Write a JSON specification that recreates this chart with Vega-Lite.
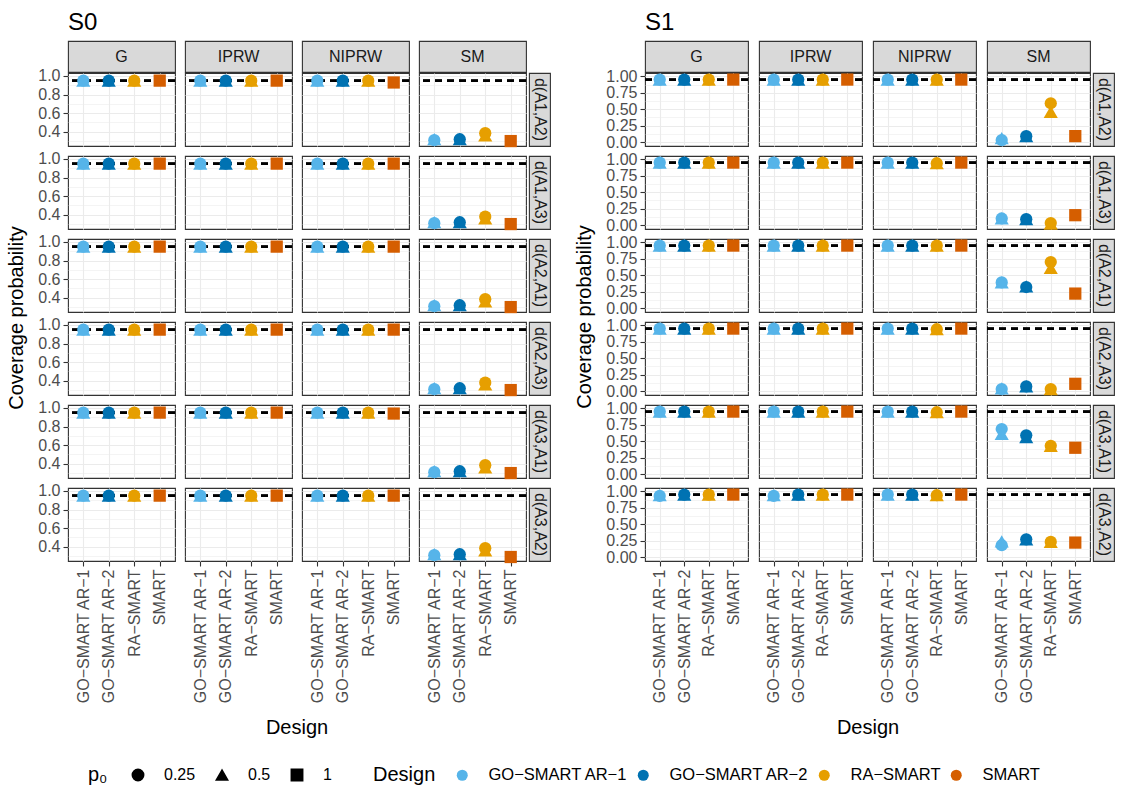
{
  "$schema": "https://vega.github.io/schema/vega-lite/v6.json",
  "background": "white",
  "padding": {"left": 6, "top": 11, "right": 5, "bottom": 5},
  "data": {"values": [
    {"s":"S0","method":"G","contrast":"d(A1,A2)","design":"GO−SMART AR−1","p0":"0.25","coverage":0.95},
    {"s":"S0","method":"G","contrast":"d(A1,A2)","design":"GO−SMART AR−1","p0":"0.5","coverage":0.95},
    {"s":"S0","method":"G","contrast":"d(A1,A2)","design":"GO−SMART AR−2","p0":"0.25","coverage":0.95},
    {"s":"S0","method":"G","contrast":"d(A1,A2)","design":"GO−SMART AR−2","p0":"0.5","coverage":0.95},
    {"s":"S0","method":"G","contrast":"d(A1,A2)","design":"RA−SMART","p0":"0.25","coverage":0.95},
    {"s":"S0","method":"G","contrast":"d(A1,A2)","design":"RA−SMART","p0":"0.5","coverage":0.95},
    {"s":"S0","method":"G","contrast":"d(A1,A2)","design":"SMART","p0":"1","coverage":0.95},
    {"s":"S0","method":"G","contrast":"d(A1,A3)","design":"GO−SMART AR−1","p0":"0.25","coverage":0.95},
    {"s":"S0","method":"G","contrast":"d(A1,A3)","design":"GO−SMART AR−1","p0":"0.5","coverage":0.95},
    {"s":"S0","method":"G","contrast":"d(A1,A3)","design":"GO−SMART AR−2","p0":"0.25","coverage":0.95},
    {"s":"S0","method":"G","contrast":"d(A1,A3)","design":"GO−SMART AR−2","p0":"0.5","coverage":0.95},
    {"s":"S0","method":"G","contrast":"d(A1,A3)","design":"RA−SMART","p0":"0.25","coverage":0.95},
    {"s":"S0","method":"G","contrast":"d(A1,A3)","design":"RA−SMART","p0":"0.5","coverage":0.95},
    {"s":"S0","method":"G","contrast":"d(A1,A3)","design":"SMART","p0":"1","coverage":0.95},
    {"s":"S0","method":"G","contrast":"d(A2,A1)","design":"GO−SMART AR−1","p0":"0.25","coverage":0.95},
    {"s":"S0","method":"G","contrast":"d(A2,A1)","design":"GO−SMART AR−1","p0":"0.5","coverage":0.95},
    {"s":"S0","method":"G","contrast":"d(A2,A1)","design":"GO−SMART AR−2","p0":"0.25","coverage":0.95},
    {"s":"S0","method":"G","contrast":"d(A2,A1)","design":"GO−SMART AR−2","p0":"0.5","coverage":0.95},
    {"s":"S0","method":"G","contrast":"d(A2,A1)","design":"RA−SMART","p0":"0.25","coverage":0.95},
    {"s":"S0","method":"G","contrast":"d(A2,A1)","design":"RA−SMART","p0":"0.5","coverage":0.95},
    {"s":"S0","method":"G","contrast":"d(A2,A1)","design":"SMART","p0":"1","coverage":0.95},
    {"s":"S0","method":"G","contrast":"d(A2,A3)","design":"GO−SMART AR−1","p0":"0.25","coverage":0.95},
    {"s":"S0","method":"G","contrast":"d(A2,A3)","design":"GO−SMART AR−1","p0":"0.5","coverage":0.95},
    {"s":"S0","method":"G","contrast":"d(A2,A3)","design":"GO−SMART AR−2","p0":"0.25","coverage":0.95},
    {"s":"S0","method":"G","contrast":"d(A2,A3)","design":"GO−SMART AR−2","p0":"0.5","coverage":0.95},
    {"s":"S0","method":"G","contrast":"d(A2,A3)","design":"RA−SMART","p0":"0.25","coverage":0.95},
    {"s":"S0","method":"G","contrast":"d(A2,A3)","design":"RA−SMART","p0":"0.5","coverage":0.95},
    {"s":"S0","method":"G","contrast":"d(A2,A3)","design":"SMART","p0":"1","coverage":0.95},
    {"s":"S0","method":"G","contrast":"d(A3,A1)","design":"GO−SMART AR−1","p0":"0.25","coverage":0.95},
    {"s":"S0","method":"G","contrast":"d(A3,A1)","design":"GO−SMART AR−1","p0":"0.5","coverage":0.95},
    {"s":"S0","method":"G","contrast":"d(A3,A1)","design":"GO−SMART AR−2","p0":"0.25","coverage":0.95},
    {"s":"S0","method":"G","contrast":"d(A3,A1)","design":"GO−SMART AR−2","p0":"0.5","coverage":0.95},
    {"s":"S0","method":"G","contrast":"d(A3,A1)","design":"RA−SMART","p0":"0.25","coverage":0.95},
    {"s":"S0","method":"G","contrast":"d(A3,A1)","design":"RA−SMART","p0":"0.5","coverage":0.95},
    {"s":"S0","method":"G","contrast":"d(A3,A1)","design":"SMART","p0":"1","coverage":0.95},
    {"s":"S0","method":"G","contrast":"d(A3,A2)","design":"GO−SMART AR−1","p0":"0.25","coverage":0.95},
    {"s":"S0","method":"G","contrast":"d(A3,A2)","design":"GO−SMART AR−1","p0":"0.5","coverage":0.95},
    {"s":"S0","method":"G","contrast":"d(A3,A2)","design":"GO−SMART AR−2","p0":"0.25","coverage":0.95},
    {"s":"S0","method":"G","contrast":"d(A3,A2)","design":"GO−SMART AR−2","p0":"0.5","coverage":0.95},
    {"s":"S0","method":"G","contrast":"d(A3,A2)","design":"RA−SMART","p0":"0.25","coverage":0.95},
    {"s":"S0","method":"G","contrast":"d(A3,A2)","design":"RA−SMART","p0":"0.5","coverage":0.95},
    {"s":"S0","method":"G","contrast":"d(A3,A2)","design":"SMART","p0":"1","coverage":0.95},

    {"s":"S0","method":"IPRW","contrast":"d(A1,A2)","design":"GO−SMART AR−1","p0":"0.25","coverage":0.95},
    {"s":"S0","method":"IPRW","contrast":"d(A1,A2)","design":"GO−SMART AR−1","p0":"0.5","coverage":0.95},
    {"s":"S0","method":"IPRW","contrast":"d(A1,A2)","design":"GO−SMART AR−2","p0":"0.25","coverage":0.95},
    {"s":"S0","method":"IPRW","contrast":"d(A1,A2)","design":"GO−SMART AR−2","p0":"0.5","coverage":0.95},
    {"s":"S0","method":"IPRW","contrast":"d(A1,A2)","design":"RA−SMART","p0":"0.25","coverage":0.95},
    {"s":"S0","method":"IPRW","contrast":"d(A1,A2)","design":"RA−SMART","p0":"0.5","coverage":0.95},
    {"s":"S0","method":"IPRW","contrast":"d(A1,A2)","design":"SMART","p0":"1","coverage":0.95},
    {"s":"S0","method":"IPRW","contrast":"d(A1,A3)","design":"GO−SMART AR−1","p0":"0.25","coverage":0.95},
    {"s":"S0","method":"IPRW","contrast":"d(A1,A3)","design":"GO−SMART AR−1","p0":"0.5","coverage":0.95},
    {"s":"S0","method":"IPRW","contrast":"d(A1,A3)","design":"GO−SMART AR−2","p0":"0.25","coverage":0.95},
    {"s":"S0","method":"IPRW","contrast":"d(A1,A3)","design":"GO−SMART AR−2","p0":"0.5","coverage":0.95},
    {"s":"S0","method":"IPRW","contrast":"d(A1,A3)","design":"RA−SMART","p0":"0.25","coverage":0.95},
    {"s":"S0","method":"IPRW","contrast":"d(A1,A3)","design":"RA−SMART","p0":"0.5","coverage":0.95},
    {"s":"S0","method":"IPRW","contrast":"d(A1,A3)","design":"SMART","p0":"1","coverage":0.95},
    {"s":"S0","method":"IPRW","contrast":"d(A2,A1)","design":"GO−SMART AR−1","p0":"0.25","coverage":0.95},
    {"s":"S0","method":"IPRW","contrast":"d(A2,A1)","design":"GO−SMART AR−1","p0":"0.5","coverage":0.95},
    {"s":"S0","method":"IPRW","contrast":"d(A2,A1)","design":"GO−SMART AR−2","p0":"0.25","coverage":0.95},
    {"s":"S0","method":"IPRW","contrast":"d(A2,A1)","design":"GO−SMART AR−2","p0":"0.5","coverage":0.95},
    {"s":"S0","method":"IPRW","contrast":"d(A2,A1)","design":"RA−SMART","p0":"0.25","coverage":0.95},
    {"s":"S0","method":"IPRW","contrast":"d(A2,A1)","design":"RA−SMART","p0":"0.5","coverage":0.95},
    {"s":"S0","method":"IPRW","contrast":"d(A2,A1)","design":"SMART","p0":"1","coverage":0.95},
    {"s":"S0","method":"IPRW","contrast":"d(A2,A3)","design":"GO−SMART AR−1","p0":"0.25","coverage":0.95},
    {"s":"S0","method":"IPRW","contrast":"d(A2,A3)","design":"GO−SMART AR−1","p0":"0.5","coverage":0.95},
    {"s":"S0","method":"IPRW","contrast":"d(A2,A3)","design":"GO−SMART AR−2","p0":"0.25","coverage":0.95},
    {"s":"S0","method":"IPRW","contrast":"d(A2,A3)","design":"GO−SMART AR−2","p0":"0.5","coverage":0.95},
    {"s":"S0","method":"IPRW","contrast":"d(A2,A3)","design":"RA−SMART","p0":"0.25","coverage":0.95},
    {"s":"S0","method":"IPRW","contrast":"d(A2,A3)","design":"RA−SMART","p0":"0.5","coverage":0.95},
    {"s":"S0","method":"IPRW","contrast":"d(A2,A3)","design":"SMART","p0":"1","coverage":0.95},
    {"s":"S0","method":"IPRW","contrast":"d(A3,A1)","design":"GO−SMART AR−1","p0":"0.25","coverage":0.95},
    {"s":"S0","method":"IPRW","contrast":"d(A3,A1)","design":"GO−SMART AR−1","p0":"0.5","coverage":0.95},
    {"s":"S0","method":"IPRW","contrast":"d(A3,A1)","design":"GO−SMART AR−2","p0":"0.25","coverage":0.95},
    {"s":"S0","method":"IPRW","contrast":"d(A3,A1)","design":"GO−SMART AR−2","p0":"0.5","coverage":0.95},
    {"s":"S0","method":"IPRW","contrast":"d(A3,A1)","design":"RA−SMART","p0":"0.25","coverage":0.95},
    {"s":"S0","method":"IPRW","contrast":"d(A3,A1)","design":"RA−SMART","p0":"0.5","coverage":0.95},
    {"s":"S0","method":"IPRW","contrast":"d(A3,A1)","design":"SMART","p0":"1","coverage":0.95},
    {"s":"S0","method":"IPRW","contrast":"d(A3,A2)","design":"GO−SMART AR−1","p0":"0.25","coverage":0.95},
    {"s":"S0","method":"IPRW","contrast":"d(A3,A2)","design":"GO−SMART AR−1","p0":"0.5","coverage":0.95},
    {"s":"S0","method":"IPRW","contrast":"d(A3,A2)","design":"GO−SMART AR−2","p0":"0.25","coverage":0.95},
    {"s":"S0","method":"IPRW","contrast":"d(A3,A2)","design":"GO−SMART AR−2","p0":"0.5","coverage":0.95},
    {"s":"S0","method":"IPRW","contrast":"d(A3,A2)","design":"RA−SMART","p0":"0.25","coverage":0.95},
    {"s":"S0","method":"IPRW","contrast":"d(A3,A2)","design":"RA−SMART","p0":"0.5","coverage":0.95},
    {"s":"S0","method":"IPRW","contrast":"d(A3,A2)","design":"SMART","p0":"1","coverage":0.95},

    {"s":"S0","method":"NIPRW","contrast":"d(A1,A2)","design":"GO−SMART AR−1","p0":"0.25","coverage":0.95},
    {"s":"S0","method":"NIPRW","contrast":"d(A1,A2)","design":"GO−SMART AR−1","p0":"0.5","coverage":0.95},
    {"s":"S0","method":"NIPRW","contrast":"d(A1,A2)","design":"GO−SMART AR−2","p0":"0.25","coverage":0.95},
    {"s":"S0","method":"NIPRW","contrast":"d(A1,A2)","design":"GO−SMART AR−2","p0":"0.5","coverage":0.95},
    {"s":"S0","method":"NIPRW","contrast":"d(A1,A2)","design":"RA−SMART","p0":"0.25","coverage":0.95},
    {"s":"S0","method":"NIPRW","contrast":"d(A1,A2)","design":"RA−SMART","p0":"0.5","coverage":0.95},
    {"s":"S0","method":"NIPRW","contrast":"d(A1,A2)","design":"SMART","p0":"1","coverage":0.93},
    {"s":"S0","method":"NIPRW","contrast":"d(A1,A3)","design":"GO−SMART AR−1","p0":"0.25","coverage":0.95},
    {"s":"S0","method":"NIPRW","contrast":"d(A1,A3)","design":"GO−SMART AR−1","p0":"0.5","coverage":0.95},
    {"s":"S0","method":"NIPRW","contrast":"d(A1,A3)","design":"GO−SMART AR−2","p0":"0.25","coverage":0.95},
    {"s":"S0","method":"NIPRW","contrast":"d(A1,A3)","design":"GO−SMART AR−2","p0":"0.5","coverage":0.95},
    {"s":"S0","method":"NIPRW","contrast":"d(A1,A3)","design":"RA−SMART","p0":"0.25","coverage":0.95},
    {"s":"S0","method":"NIPRW","contrast":"d(A1,A3)","design":"RA−SMART","p0":"0.5","coverage":0.95},
    {"s":"S0","method":"NIPRW","contrast":"d(A1,A3)","design":"SMART","p0":"1","coverage":0.95},
    {"s":"S0","method":"NIPRW","contrast":"d(A2,A1)","design":"GO−SMART AR−1","p0":"0.25","coverage":0.95},
    {"s":"S0","method":"NIPRW","contrast":"d(A2,A1)","design":"GO−SMART AR−1","p0":"0.5","coverage":0.95},
    {"s":"S0","method":"NIPRW","contrast":"d(A2,A1)","design":"GO−SMART AR−2","p0":"0.25","coverage":0.95},
    {"s":"S0","method":"NIPRW","contrast":"d(A2,A1)","design":"GO−SMART AR−2","p0":"0.5","coverage":0.95},
    {"s":"S0","method":"NIPRW","contrast":"d(A2,A1)","design":"RA−SMART","p0":"0.25","coverage":0.95},
    {"s":"S0","method":"NIPRW","contrast":"d(A2,A1)","design":"RA−SMART","p0":"0.5","coverage":0.95},
    {"s":"S0","method":"NIPRW","contrast":"d(A2,A1)","design":"SMART","p0":"1","coverage":0.95},
    {"s":"S0","method":"NIPRW","contrast":"d(A2,A3)","design":"GO−SMART AR−1","p0":"0.25","coverage":0.95},
    {"s":"S0","method":"NIPRW","contrast":"d(A2,A3)","design":"GO−SMART AR−1","p0":"0.5","coverage":0.95},
    {"s":"S0","method":"NIPRW","contrast":"d(A2,A3)","design":"GO−SMART AR−2","p0":"0.25","coverage":0.95},
    {"s":"S0","method":"NIPRW","contrast":"d(A2,A3)","design":"GO−SMART AR−2","p0":"0.5","coverage":0.95},
    {"s":"S0","method":"NIPRW","contrast":"d(A2,A3)","design":"RA−SMART","p0":"0.25","coverage":0.95},
    {"s":"S0","method":"NIPRW","contrast":"d(A2,A3)","design":"RA−SMART","p0":"0.5","coverage":0.95},
    {"s":"S0","method":"NIPRW","contrast":"d(A2,A3)","design":"SMART","p0":"1","coverage":0.95},
    {"s":"S0","method":"NIPRW","contrast":"d(A3,A1)","design":"GO−SMART AR−1","p0":"0.25","coverage":0.95},
    {"s":"S0","method":"NIPRW","contrast":"d(A3,A1)","design":"GO−SMART AR−1","p0":"0.5","coverage":0.95},
    {"s":"S0","method":"NIPRW","contrast":"d(A3,A1)","design":"GO−SMART AR−2","p0":"0.25","coverage":0.95},
    {"s":"S0","method":"NIPRW","contrast":"d(A3,A1)","design":"GO−SMART AR−2","p0":"0.5","coverage":0.95},
    {"s":"S0","method":"NIPRW","contrast":"d(A3,A1)","design":"RA−SMART","p0":"0.25","coverage":0.95},
    {"s":"S0","method":"NIPRW","contrast":"d(A3,A1)","design":"RA−SMART","p0":"0.5","coverage":0.95},
    {"s":"S0","method":"NIPRW","contrast":"d(A3,A1)","design":"SMART","p0":"1","coverage":0.94},
    {"s":"S0","method":"NIPRW","contrast":"d(A3,A2)","design":"GO−SMART AR−1","p0":"0.25","coverage":0.95},
    {"s":"S0","method":"NIPRW","contrast":"d(A3,A2)","design":"GO−SMART AR−1","p0":"0.5","coverage":0.95},
    {"s":"S0","method":"NIPRW","contrast":"d(A3,A2)","design":"GO−SMART AR−2","p0":"0.25","coverage":0.95},
    {"s":"S0","method":"NIPRW","contrast":"d(A3,A2)","design":"GO−SMART AR−2","p0":"0.5","coverage":0.95},
    {"s":"S0","method":"NIPRW","contrast":"d(A3,A2)","design":"RA−SMART","p0":"0.25","coverage":0.95},
    {"s":"S0","method":"NIPRW","contrast":"d(A3,A2)","design":"RA−SMART","p0":"0.5","coverage":0.95},
    {"s":"S0","method":"NIPRW","contrast":"d(A3,A2)","design":"SMART","p0":"1","coverage":0.95},

    {"s":"S0","method":"SM","contrast":"d(A1,A2)","design":"GO−SMART AR−1","p0":"0.25","coverage":0.31},
    {"s":"S0","method":"SM","contrast":"d(A1,A2)","design":"GO−SMART AR−1","p0":"0.5","coverage":0.32},
    {"s":"S0","method":"SM","contrast":"d(A1,A2)","design":"GO−SMART AR−2","p0":"0.25","coverage":0.32},
    {"s":"S0","method":"SM","contrast":"d(A1,A2)","design":"GO−SMART AR−2","p0":"0.5","coverage":0.32},
    {"s":"S0","method":"SM","contrast":"d(A1,A2)","design":"RA−SMART","p0":"0.25","coverage":0.385},
    {"s":"S0","method":"SM","contrast":"d(A1,A2)","design":"RA−SMART","p0":"0.5","coverage":0.36},
    {"s":"S0","method":"SM","contrast":"d(A1,A2)","design":"SMART","p0":"1","coverage":0.3},
    {"s":"S0","method":"SM","contrast":"d(A1,A3)","design":"GO−SMART AR−1","p0":"0.25","coverage":0.31},
    {"s":"S0","method":"SM","contrast":"d(A1,A3)","design":"GO−SMART AR−1","p0":"0.5","coverage":0.32},
    {"s":"S0","method":"SM","contrast":"d(A1,A3)","design":"GO−SMART AR−2","p0":"0.25","coverage":0.32},
    {"s":"S0","method":"SM","contrast":"d(A1,A3)","design":"GO−SMART AR−2","p0":"0.5","coverage":0.32},
    {"s":"S0","method":"SM","contrast":"d(A1,A3)","design":"RA−SMART","p0":"0.25","coverage":0.38},
    {"s":"S0","method":"SM","contrast":"d(A1,A3)","design":"RA−SMART","p0":"0.5","coverage":0.36},
    {"s":"S0","method":"SM","contrast":"d(A1,A3)","design":"SMART","p0":"1","coverage":0.3},
    {"s":"S0","method":"SM","contrast":"d(A2,A1)","design":"GO−SMART AR−1","p0":"0.25","coverage":0.31},
    {"s":"S0","method":"SM","contrast":"d(A2,A1)","design":"GO−SMART AR−1","p0":"0.5","coverage":0.32},
    {"s":"S0","method":"SM","contrast":"d(A2,A1)","design":"GO−SMART AR−2","p0":"0.25","coverage":0.32},
    {"s":"S0","method":"SM","contrast":"d(A2,A1)","design":"GO−SMART AR−2","p0":"0.5","coverage":0.32},
    {"s":"S0","method":"SM","contrast":"d(A2,A1)","design":"RA−SMART","p0":"0.25","coverage":0.385},
    {"s":"S0","method":"SM","contrast":"d(A2,A1)","design":"RA−SMART","p0":"0.5","coverage":0.36},
    {"s":"S0","method":"SM","contrast":"d(A2,A1)","design":"SMART","p0":"1","coverage":0.3},
    {"s":"S0","method":"SM","contrast":"d(A2,A3)","design":"GO−SMART AR−1","p0":"0.25","coverage":0.31},
    {"s":"S0","method":"SM","contrast":"d(A2,A3)","design":"GO−SMART AR−1","p0":"0.5","coverage":0.32},
    {"s":"S0","method":"SM","contrast":"d(A2,A3)","design":"GO−SMART AR−2","p0":"0.25","coverage":0.32},
    {"s":"S0","method":"SM","contrast":"d(A2,A3)","design":"GO−SMART AR−2","p0":"0.5","coverage":0.32},
    {"s":"S0","method":"SM","contrast":"d(A2,A3)","design":"RA−SMART","p0":"0.25","coverage":0.38},
    {"s":"S0","method":"SM","contrast":"d(A2,A3)","design":"RA−SMART","p0":"0.5","coverage":0.36},
    {"s":"S0","method":"SM","contrast":"d(A2,A3)","design":"SMART","p0":"1","coverage":0.3},
    {"s":"S0","method":"SM","contrast":"d(A3,A1)","design":"GO−SMART AR−1","p0":"0.25","coverage":0.31},
    {"s":"S0","method":"SM","contrast":"d(A3,A1)","design":"GO−SMART AR−1","p0":"0.5","coverage":0.32},
    {"s":"S0","method":"SM","contrast":"d(A3,A1)","design":"GO−SMART AR−2","p0":"0.25","coverage":0.32},
    {"s":"S0","method":"SM","contrast":"d(A3,A1)","design":"GO−SMART AR−2","p0":"0.5","coverage":0.32},
    {"s":"S0","method":"SM","contrast":"d(A3,A1)","design":"RA−SMART","p0":"0.25","coverage":0.385},
    {"s":"S0","method":"SM","contrast":"d(A3,A1)","design":"RA−SMART","p0":"0.5","coverage":0.36},
    {"s":"S0","method":"SM","contrast":"d(A3,A1)","design":"SMART","p0":"1","coverage":0.3},
    {"s":"S0","method":"SM","contrast":"d(A3,A2)","design":"GO−SMART AR−1","p0":"0.25","coverage":0.31},
    {"s":"S0","method":"SM","contrast":"d(A3,A2)","design":"GO−SMART AR−1","p0":"0.5","coverage":0.32},
    {"s":"S0","method":"SM","contrast":"d(A3,A2)","design":"GO−SMART AR−2","p0":"0.25","coverage":0.32},
    {"s":"S0","method":"SM","contrast":"d(A3,A2)","design":"GO−SMART AR−2","p0":"0.5","coverage":0.32},
    {"s":"S0","method":"SM","contrast":"d(A3,A2)","design":"RA−SMART","p0":"0.25","coverage":0.385},
    {"s":"S0","method":"SM","contrast":"d(A3,A2)","design":"RA−SMART","p0":"0.5","coverage":0.36},
    {"s":"S0","method":"SM","contrast":"d(A3,A2)","design":"SMART","p0":"1","coverage":0.29},

    {"s":"S1","method":"G","contrast":"d(A1,A2)","design":"GO−SMART AR−1","p0":"0.25","coverage":0.95},
    {"s":"S1","method":"G","contrast":"d(A1,A2)","design":"GO−SMART AR−1","p0":"0.5","coverage":0.95},
    {"s":"S1","method":"G","contrast":"d(A1,A2)","design":"GO−SMART AR−2","p0":"0.25","coverage":0.95},
    {"s":"S1","method":"G","contrast":"d(A1,A2)","design":"GO−SMART AR−2","p0":"0.5","coverage":0.95},
    {"s":"S1","method":"G","contrast":"d(A1,A2)","design":"RA−SMART","p0":"0.25","coverage":0.95},
    {"s":"S1","method":"G","contrast":"d(A1,A2)","design":"RA−SMART","p0":"0.5","coverage":0.95},
    {"s":"S1","method":"G","contrast":"d(A1,A2)","design":"SMART","p0":"1","coverage":0.95},
    {"s":"S1","method":"G","contrast":"d(A1,A3)","design":"GO−SMART AR−1","p0":"0.25","coverage":0.95},
    {"s":"S1","method":"G","contrast":"d(A1,A3)","design":"GO−SMART AR−1","p0":"0.5","coverage":0.95},
    {"s":"S1","method":"G","contrast":"d(A1,A3)","design":"GO−SMART AR−2","p0":"0.25","coverage":0.95},
    {"s":"S1","method":"G","contrast":"d(A1,A3)","design":"GO−SMART AR−2","p0":"0.5","coverage":0.95},
    {"s":"S1","method":"G","contrast":"d(A1,A3)","design":"RA−SMART","p0":"0.25","coverage":0.95},
    {"s":"S1","method":"G","contrast":"d(A1,A3)","design":"RA−SMART","p0":"0.5","coverage":0.95},
    {"s":"S1","method":"G","contrast":"d(A1,A3)","design":"SMART","p0":"1","coverage":0.95},
    {"s":"S1","method":"G","contrast":"d(A2,A1)","design":"GO−SMART AR−1","p0":"0.25","coverage":0.95},
    {"s":"S1","method":"G","contrast":"d(A2,A1)","design":"GO−SMART AR−1","p0":"0.5","coverage":0.95},
    {"s":"S1","method":"G","contrast":"d(A2,A1)","design":"GO−SMART AR−2","p0":"0.25","coverage":0.95},
    {"s":"S1","method":"G","contrast":"d(A2,A1)","design":"GO−SMART AR−2","p0":"0.5","coverage":0.95},
    {"s":"S1","method":"G","contrast":"d(A2,A1)","design":"RA−SMART","p0":"0.25","coverage":0.95},
    {"s":"S1","method":"G","contrast":"d(A2,A1)","design":"RA−SMART","p0":"0.5","coverage":0.95},
    {"s":"S1","method":"G","contrast":"d(A2,A1)","design":"SMART","p0":"1","coverage":0.95},
    {"s":"S1","method":"G","contrast":"d(A2,A3)","design":"GO−SMART AR−1","p0":"0.25","coverage":0.95},
    {"s":"S1","method":"G","contrast":"d(A2,A3)","design":"GO−SMART AR−1","p0":"0.5","coverage":0.95},
    {"s":"S1","method":"G","contrast":"d(A2,A3)","design":"GO−SMART AR−2","p0":"0.25","coverage":0.95},
    {"s":"S1","method":"G","contrast":"d(A2,A3)","design":"GO−SMART AR−2","p0":"0.5","coverage":0.95},
    {"s":"S1","method":"G","contrast":"d(A2,A3)","design":"RA−SMART","p0":"0.25","coverage":0.95},
    {"s":"S1","method":"G","contrast":"d(A2,A3)","design":"RA−SMART","p0":"0.5","coverage":0.95},
    {"s":"S1","method":"G","contrast":"d(A2,A3)","design":"SMART","p0":"1","coverage":0.95},
    {"s":"S1","method":"G","contrast":"d(A3,A1)","design":"GO−SMART AR−1","p0":"0.25","coverage":0.95},
    {"s":"S1","method":"G","contrast":"d(A3,A1)","design":"GO−SMART AR−1","p0":"0.5","coverage":0.95},
    {"s":"S1","method":"G","contrast":"d(A3,A1)","design":"GO−SMART AR−2","p0":"0.25","coverage":0.95},
    {"s":"S1","method":"G","contrast":"d(A3,A1)","design":"GO−SMART AR−2","p0":"0.5","coverage":0.95},
    {"s":"S1","method":"G","contrast":"d(A3,A1)","design":"RA−SMART","p0":"0.25","coverage":0.95},
    {"s":"S1","method":"G","contrast":"d(A3,A1)","design":"RA−SMART","p0":"0.5","coverage":0.95},
    {"s":"S1","method":"G","contrast":"d(A3,A1)","design":"SMART","p0":"1","coverage":0.95},
    {"s":"S1","method":"G","contrast":"d(A3,A2)","design":"GO−SMART AR−1","p0":"0.25","coverage":0.93},
    {"s":"S1","method":"G","contrast":"d(A3,A2)","design":"GO−SMART AR−1","p0":"0.5","coverage":0.94},
    {"s":"S1","method":"G","contrast":"d(A3,A2)","design":"GO−SMART AR−2","p0":"0.25","coverage":0.95},
    {"s":"S1","method":"G","contrast":"d(A3,A2)","design":"GO−SMART AR−2","p0":"0.5","coverage":0.95},
    {"s":"S1","method":"G","contrast":"d(A3,A2)","design":"RA−SMART","p0":"0.25","coverage":0.95},
    {"s":"S1","method":"G","contrast":"d(A3,A2)","design":"RA−SMART","p0":"0.5","coverage":0.95},
    {"s":"S1","method":"G","contrast":"d(A3,A2)","design":"SMART","p0":"1","coverage":0.95},

    {"s":"S1","method":"IPRW","contrast":"d(A1,A2)","design":"GO−SMART AR−1","p0":"0.25","coverage":0.95},
    {"s":"S1","method":"IPRW","contrast":"d(A1,A2)","design":"GO−SMART AR−1","p0":"0.5","coverage":0.95},
    {"s":"S1","method":"IPRW","contrast":"d(A1,A2)","design":"GO−SMART AR−2","p0":"0.25","coverage":0.95},
    {"s":"S1","method":"IPRW","contrast":"d(A1,A2)","design":"GO−SMART AR−2","p0":"0.5","coverage":0.95},
    {"s":"S1","method":"IPRW","contrast":"d(A1,A2)","design":"RA−SMART","p0":"0.25","coverage":0.95},
    {"s":"S1","method":"IPRW","contrast":"d(A1,A2)","design":"RA−SMART","p0":"0.5","coverage":0.95},
    {"s":"S1","method":"IPRW","contrast":"d(A1,A2)","design":"SMART","p0":"1","coverage":0.95},
    {"s":"S1","method":"IPRW","contrast":"d(A1,A3)","design":"GO−SMART AR−1","p0":"0.25","coverage":0.95},
    {"s":"S1","method":"IPRW","contrast":"d(A1,A3)","design":"GO−SMART AR−1","p0":"0.5","coverage":0.95},
    {"s":"S1","method":"IPRW","contrast":"d(A1,A3)","design":"GO−SMART AR−2","p0":"0.25","coverage":0.95},
    {"s":"S1","method":"IPRW","contrast":"d(A1,A3)","design":"GO−SMART AR−2","p0":"0.5","coverage":0.95},
    {"s":"S1","method":"IPRW","contrast":"d(A1,A3)","design":"RA−SMART","p0":"0.25","coverage":0.95},
    {"s":"S1","method":"IPRW","contrast":"d(A1,A3)","design":"RA−SMART","p0":"0.5","coverage":0.95},
    {"s":"S1","method":"IPRW","contrast":"d(A1,A3)","design":"SMART","p0":"1","coverage":0.95},
    {"s":"S1","method":"IPRW","contrast":"d(A2,A1)","design":"GO−SMART AR−1","p0":"0.25","coverage":0.95},
    {"s":"S1","method":"IPRW","contrast":"d(A2,A1)","design":"GO−SMART AR−1","p0":"0.5","coverage":0.95},
    {"s":"S1","method":"IPRW","contrast":"d(A2,A1)","design":"GO−SMART AR−2","p0":"0.25","coverage":0.95},
    {"s":"S1","method":"IPRW","contrast":"d(A2,A1)","design":"GO−SMART AR−2","p0":"0.5","coverage":0.95},
    {"s":"S1","method":"IPRW","contrast":"d(A2,A1)","design":"RA−SMART","p0":"0.25","coverage":0.95},
    {"s":"S1","method":"IPRW","contrast":"d(A2,A1)","design":"RA−SMART","p0":"0.5","coverage":0.95},
    {"s":"S1","method":"IPRW","contrast":"d(A2,A1)","design":"SMART","p0":"1","coverage":0.95},
    {"s":"S1","method":"IPRW","contrast":"d(A2,A3)","design":"GO−SMART AR−1","p0":"0.25","coverage":0.95},
    {"s":"S1","method":"IPRW","contrast":"d(A2,A3)","design":"GO−SMART AR−1","p0":"0.5","coverage":0.95},
    {"s":"S1","method":"IPRW","contrast":"d(A2,A3)","design":"GO−SMART AR−2","p0":"0.25","coverage":0.95},
    {"s":"S1","method":"IPRW","contrast":"d(A2,A3)","design":"GO−SMART AR−2","p0":"0.5","coverage":0.95},
    {"s":"S1","method":"IPRW","contrast":"d(A2,A3)","design":"RA−SMART","p0":"0.25","coverage":0.95},
    {"s":"S1","method":"IPRW","contrast":"d(A2,A3)","design":"RA−SMART","p0":"0.5","coverage":0.95},
    {"s":"S1","method":"IPRW","contrast":"d(A2,A3)","design":"SMART","p0":"1","coverage":0.95},
    {"s":"S1","method":"IPRW","contrast":"d(A3,A1)","design":"GO−SMART AR−1","p0":"0.25","coverage":0.95},
    {"s":"S1","method":"IPRW","contrast":"d(A3,A1)","design":"GO−SMART AR−1","p0":"0.5","coverage":0.95},
    {"s":"S1","method":"IPRW","contrast":"d(A3,A1)","design":"GO−SMART AR−2","p0":"0.25","coverage":0.95},
    {"s":"S1","method":"IPRW","contrast":"d(A3,A1)","design":"GO−SMART AR−2","p0":"0.5","coverage":0.95},
    {"s":"S1","method":"IPRW","contrast":"d(A3,A1)","design":"RA−SMART","p0":"0.25","coverage":0.95},
    {"s":"S1","method":"IPRW","contrast":"d(A3,A1)","design":"RA−SMART","p0":"0.5","coverage":0.95},
    {"s":"S1","method":"IPRW","contrast":"d(A3,A1)","design":"SMART","p0":"1","coverage":0.95},
    {"s":"S1","method":"IPRW","contrast":"d(A3,A2)","design":"GO−SMART AR−1","p0":"0.25","coverage":0.93},
    {"s":"S1","method":"IPRW","contrast":"d(A3,A2)","design":"GO−SMART AR−1","p0":"0.5","coverage":0.94},
    {"s":"S1","method":"IPRW","contrast":"d(A3,A2)","design":"GO−SMART AR−2","p0":"0.25","coverage":0.95},
    {"s":"S1","method":"IPRW","contrast":"d(A3,A2)","design":"GO−SMART AR−2","p0":"0.5","coverage":0.95},
    {"s":"S1","method":"IPRW","contrast":"d(A3,A2)","design":"RA−SMART","p0":"0.25","coverage":0.95},
    {"s":"S1","method":"IPRW","contrast":"d(A3,A2)","design":"RA−SMART","p0":"0.5","coverage":0.95},
    {"s":"S1","method":"IPRW","contrast":"d(A3,A2)","design":"SMART","p0":"1","coverage":0.95},

    {"s":"S1","method":"NIPRW","contrast":"d(A1,A2)","design":"GO−SMART AR−1","p0":"0.25","coverage":0.95},
    {"s":"S1","method":"NIPRW","contrast":"d(A1,A2)","design":"GO−SMART AR−1","p0":"0.5","coverage":0.95},
    {"s":"S1","method":"NIPRW","contrast":"d(A1,A2)","design":"GO−SMART AR−2","p0":"0.25","coverage":0.95},
    {"s":"S1","method":"NIPRW","contrast":"d(A1,A2)","design":"GO−SMART AR−2","p0":"0.5","coverage":0.95},
    {"s":"S1","method":"NIPRW","contrast":"d(A1,A2)","design":"RA−SMART","p0":"0.25","coverage":0.95},
    {"s":"S1","method":"NIPRW","contrast":"d(A1,A2)","design":"RA−SMART","p0":"0.5","coverage":0.95},
    {"s":"S1","method":"NIPRW","contrast":"d(A1,A2)","design":"SMART","p0":"1","coverage":0.95},
    {"s":"S1","method":"NIPRW","contrast":"d(A1,A3)","design":"GO−SMART AR−1","p0":"0.25","coverage":0.95},
    {"s":"S1","method":"NIPRW","contrast":"d(A1,A3)","design":"GO−SMART AR−1","p0":"0.5","coverage":0.95},
    {"s":"S1","method":"NIPRW","contrast":"d(A1,A3)","design":"GO−SMART AR−2","p0":"0.25","coverage":0.95},
    {"s":"S1","method":"NIPRW","contrast":"d(A1,A3)","design":"GO−SMART AR−2","p0":"0.5","coverage":0.95},
    {"s":"S1","method":"NIPRW","contrast":"d(A1,A3)","design":"RA−SMART","p0":"0.25","coverage":0.94},
    {"s":"S1","method":"NIPRW","contrast":"d(A1,A3)","design":"RA−SMART","p0":"0.5","coverage":0.94},
    {"s":"S1","method":"NIPRW","contrast":"d(A1,A3)","design":"SMART","p0":"1","coverage":0.95},
    {"s":"S1","method":"NIPRW","contrast":"d(A2,A1)","design":"GO−SMART AR−1","p0":"0.25","coverage":0.95},
    {"s":"S1","method":"NIPRW","contrast":"d(A2,A1)","design":"GO−SMART AR−1","p0":"0.5","coverage":0.95},
    {"s":"S1","method":"NIPRW","contrast":"d(A2,A1)","design":"GO−SMART AR−2","p0":"0.25","coverage":0.95},
    {"s":"S1","method":"NIPRW","contrast":"d(A2,A1)","design":"GO−SMART AR−2","p0":"0.5","coverage":0.95},
    {"s":"S1","method":"NIPRW","contrast":"d(A2,A1)","design":"RA−SMART","p0":"0.25","coverage":0.95},
    {"s":"S1","method":"NIPRW","contrast":"d(A2,A1)","design":"RA−SMART","p0":"0.5","coverage":0.95},
    {"s":"S1","method":"NIPRW","contrast":"d(A2,A1)","design":"SMART","p0":"1","coverage":0.95},
    {"s":"S1","method":"NIPRW","contrast":"d(A2,A3)","design":"GO−SMART AR−1","p0":"0.25","coverage":0.95},
    {"s":"S1","method":"NIPRW","contrast":"d(A2,A3)","design":"GO−SMART AR−1","p0":"0.5","coverage":0.95},
    {"s":"S1","method":"NIPRW","contrast":"d(A2,A3)","design":"GO−SMART AR−2","p0":"0.25","coverage":0.95},
    {"s":"S1","method":"NIPRW","contrast":"d(A2,A3)","design":"GO−SMART AR−2","p0":"0.5","coverage":0.95},
    {"s":"S1","method":"NIPRW","contrast":"d(A2,A3)","design":"RA−SMART","p0":"0.25","coverage":0.94},
    {"s":"S1","method":"NIPRW","contrast":"d(A2,A3)","design":"RA−SMART","p0":"0.5","coverage":0.94},
    {"s":"S1","method":"NIPRW","contrast":"d(A2,A3)","design":"SMART","p0":"1","coverage":0.95},
    {"s":"S1","method":"NIPRW","contrast":"d(A3,A1)","design":"GO−SMART AR−1","p0":"0.25","coverage":0.95},
    {"s":"S1","method":"NIPRW","contrast":"d(A3,A1)","design":"GO−SMART AR−1","p0":"0.5","coverage":0.95},
    {"s":"S1","method":"NIPRW","contrast":"d(A3,A1)","design":"GO−SMART AR−2","p0":"0.25","coverage":0.95},
    {"s":"S1","method":"NIPRW","contrast":"d(A3,A1)","design":"GO−SMART AR−2","p0":"0.5","coverage":0.95},
    {"s":"S1","method":"NIPRW","contrast":"d(A3,A1)","design":"RA−SMART","p0":"0.25","coverage":0.94},
    {"s":"S1","method":"NIPRW","contrast":"d(A3,A1)","design":"RA−SMART","p0":"0.5","coverage":0.94},
    {"s":"S1","method":"NIPRW","contrast":"d(A3,A1)","design":"SMART","p0":"1","coverage":0.95},
    {"s":"S1","method":"NIPRW","contrast":"d(A3,A2)","design":"GO−SMART AR−1","p0":"0.25","coverage":0.95},
    {"s":"S1","method":"NIPRW","contrast":"d(A3,A2)","design":"GO−SMART AR−1","p0":"0.5","coverage":0.95},
    {"s":"S1","method":"NIPRW","contrast":"d(A3,A2)","design":"GO−SMART AR−2","p0":"0.25","coverage":0.95},
    {"s":"S1","method":"NIPRW","contrast":"d(A3,A2)","design":"GO−SMART AR−2","p0":"0.5","coverage":0.95},
    {"s":"S1","method":"NIPRW","contrast":"d(A3,A2)","design":"RA−SMART","p0":"0.25","coverage":0.94},
    {"s":"S1","method":"NIPRW","contrast":"d(A3,A2)","design":"RA−SMART","p0":"0.5","coverage":0.94},
    {"s":"S1","method":"NIPRW","contrast":"d(A3,A2)","design":"SMART","p0":"1","coverage":0.95},

    {"s":"S1","method":"SM","contrast":"d(A1,A2)","design":"GO−SMART AR−1","p0":"0.25","coverage":0.03},
    {"s":"S1","method":"SM","contrast":"d(A1,A2)","design":"GO−SMART AR−1","p0":"0.5","coverage":0.06},
    {"s":"S1","method":"SM","contrast":"d(A1,A2)","design":"GO−SMART AR−2","p0":"0.25","coverage":0.09},
    {"s":"S1","method":"SM","contrast":"d(A1,A2)","design":"GO−SMART AR−2","p0":"0.5","coverage":0.09},
    {"s":"S1","method":"SM","contrast":"d(A1,A2)","design":"RA−SMART","p0":"0.25","coverage":0.59},
    {"s":"S1","method":"SM","contrast":"d(A1,A2)","design":"RA−SMART","p0":"0.5","coverage":0.46},
    {"s":"S1","method":"SM","contrast":"d(A1,A2)","design":"SMART","p0":"1","coverage":0.09},
    {"s":"S1","method":"SM","contrast":"d(A1,A3)","design":"GO−SMART AR−1","p0":"0.25","coverage":0.1},
    {"s":"S1","method":"SM","contrast":"d(A1,A3)","design":"GO−SMART AR−1","p0":"0.5","coverage":0.1},
    {"s":"S1","method":"SM","contrast":"d(A1,A3)","design":"GO−SMART AR−2","p0":"0.25","coverage":0.09},
    {"s":"S1","method":"SM","contrast":"d(A1,A3)","design":"GO−SMART AR−2","p0":"0.5","coverage":0.09},
    {"s":"S1","method":"SM","contrast":"d(A1,A3)","design":"RA−SMART","p0":"0.25","coverage":0.03},
    {"s":"S1","method":"SM","contrast":"d(A1,A3)","design":"RA−SMART","p0":"0.5","coverage":0.02},
    {"s":"S1","method":"SM","contrast":"d(A1,A3)","design":"SMART","p0":"1","coverage":0.15},
    {"s":"S1","method":"SM","contrast":"d(A2,A1)","design":"GO−SMART AR−1","p0":"0.25","coverage":0.39},
    {"s":"S1","method":"SM","contrast":"d(A2,A1)","design":"GO−SMART AR−1","p0":"0.5","coverage":0.39},
    {"s":"S1","method":"SM","contrast":"d(A2,A1)","design":"GO−SMART AR−2","p0":"0.25","coverage":0.32},
    {"s":"S1","method":"SM","contrast":"d(A2,A1)","design":"GO−SMART AR−2","p0":"0.5","coverage":0.33},
    {"s":"S1","method":"SM","contrast":"d(A2,A1)","design":"RA−SMART","p0":"0.25","coverage":0.7},
    {"s":"S1","method":"SM","contrast":"d(A2,A1)","design":"RA−SMART","p0":"0.5","coverage":0.61},
    {"s":"S1","method":"SM","contrast":"d(A2,A1)","design":"SMART","p0":"1","coverage":0.22},
    {"s":"S1","method":"SM","contrast":"d(A2,A3)","design":"GO−SMART AR−1","p0":"0.25","coverage":0.03},
    {"s":"S1","method":"SM","contrast":"d(A2,A3)","design":"GO−SMART AR−1","p0":"0.5","coverage":0.04},
    {"s":"S1","method":"SM","contrast":"d(A2,A3)","design":"GO−SMART AR−2","p0":"0.25","coverage":0.07},
    {"s":"S1","method":"SM","contrast":"d(A2,A3)","design":"GO−SMART AR−2","p0":"0.5","coverage":0.07},
    {"s":"S1","method":"SM","contrast":"d(A2,A3)","design":"RA−SMART","p0":"0.25","coverage":0.03},
    {"s":"S1","method":"SM","contrast":"d(A2,A3)","design":"RA−SMART","p0":"0.5","coverage":0.03},
    {"s":"S1","method":"SM","contrast":"d(A2,A3)","design":"SMART","p0":"1","coverage":0.11},
    {"s":"S1","method":"SM","contrast":"d(A3,A1)","design":"GO−SMART AR−1","p0":"0.25","coverage":0.685},
    {"s":"S1","method":"SM","contrast":"d(A3,A1)","design":"GO−SMART AR−1","p0":"0.5","coverage":0.61},
    {"s":"S1","method":"SM","contrast":"d(A3,A1)","design":"GO−SMART AR−2","p0":"0.25","coverage":0.59},
    {"s":"S1","method":"SM","contrast":"d(A3,A1)","design":"GO−SMART AR−2","p0":"0.5","coverage":0.56},
    {"s":"S1","method":"SM","contrast":"d(A3,A1)","design":"RA−SMART","p0":"0.25","coverage":0.43},
    {"s":"S1","method":"SM","contrast":"d(A3,A1)","design":"RA−SMART","p0":"0.5","coverage":0.43},
    {"s":"S1","method":"SM","contrast":"d(A3,A1)","design":"SMART","p0":"1","coverage":0.4},
    {"s":"S1","method":"SM","contrast":"d(A3,A2)","design":"GO−SMART AR−1","p0":"0.25","coverage":0.18},
    {"s":"S1","method":"SM","contrast":"d(A3,A2)","design":"GO−SMART AR−1","p0":"0.5","coverage":0.24},
    {"s":"S1","method":"SM","contrast":"d(A3,A2)","design":"GO−SMART AR−2","p0":"0.25","coverage":0.27},
    {"s":"S1","method":"SM","contrast":"d(A3,A2)","design":"GO−SMART AR−2","p0":"0.5","coverage":0.27},
    {"s":"S1","method":"SM","contrast":"d(A3,A2)","design":"RA−SMART","p0":"0.25","coverage":0.23},
    {"s":"S1","method":"SM","contrast":"d(A3,A2)","design":"RA−SMART","p0":"0.5","coverage":0.23},
    {"s":"S1","method":"SM","contrast":"d(A3,A2)","design":"SMART","p0":"1","coverage":0.22}
  ]},
  "spacing": 23,
  "hconcat": [
    {
      "title": {"text": "S0", "anchor": "start", "frame": "group", "fontSize": 24, "fontWeight": "normal", "color": "black", "font": "Liberation Sans", "offset": 5},
      "transform": [{"filter": {"field": "s", "equal": "S0"}}],
      "spacing": -7,
      "vconcat": [
        {
          "transform": [{"aggregate": [{"op": "count", "as": "n"}], "groupby": ["method"]}],
          "facet": {"column": {"field": "method", "type": "nominal", "header": {"labels": false, "title": null}}},
          "spacing": {"column": 10},
          "bounds": "flush",
          "spec": {
            "width": 107, "height": 31,
            "view": {"fill": "#D9D9D9", "stroke": "#333333", "strokeWidth": 1.1},
            "mark": {"type": "text", "fontSize": 16, "color": "#1A1A1A", "font": "Liberation Sans", "baseline": "middle", "align": "center"},
            "encoding": {"text": {"field": "method", "type": "nominal"}}
          }
        },
        {
          "spacing": 0,
          "hconcat": [
            {
              "facet": {
                "row": {"field": "contrast", "type": "nominal", "header": {"labels": false, "title": "Coverage probability", "titleFontSize": 20, "titleFontWeight": "normal", "titleColor": "black", "titleFont": "Liberation Sans", "titlePadding": 0}},
                "column": {"field": "method", "type": "nominal", "header": {"labels": false, "title": "Design", "titleOrient": "bottom", "titleFontSize": 20, "titleFontWeight": "normal", "titleColor": "black", "titleFont": "Liberation Sans", "titlePadding": 4}}
              },
              "spacing": {"row": 10, "column": 10},
              "bounds": "flush",
              "spec": {
                "width": 107, "height": 73,
                "layer": [
                  {
                    "mark": {"type": "rule", "color": "black", "strokeWidth": 1.6, "strokeDash": [7, 5]},
                    "encoding": {"y": {"datum": 0.95, "type": "quantitative", "axis": {"labelOverlap": false, "tickCount": 20}}}
                  },
                  {
                    "mark": {"type": "point", "filled": true, "opacity": 1, "strokeWidth": 0},
                    "encoding": {
                      "x": {"field": "design", "type": "nominal", "title": null,
                            "scale": {"type": "point", "padding": 0.6},
                            "axis": {"labelAngle": -90, "grid": true, "gridColor": "#EBEBEB", "gridWidth": 1.1, "labelPadding": 3}},
                      "y": {"field": "coverage", "type": "quantitative", "title": null,
                            "scale": {"domain": [0.247, 1.032], "nice": false, "zero": false},
                            "axis": {"values": [0.3, 0.4, 0.5, 0.6, 0.7, 0.8, 0.9, 1.0],
                                     "tickCount": 20,
                                     "labelOverlap": false,
                                     "labelExpr": "abs(datum.value * 5 - round(datum.value * 5)) < 0.01 ? format(datum.value, '.1f') : ''",
                                     "grid": true, "gridColor": "#EBEBEB",
                                     "gridWidth": {"condition": {"test": "abs(datum.value * 5 - round(datum.value * 5)) < 0.01", "value": 1.1}, "value": 0.55},
                                     "tickOpacity": {"condition": {"test": "abs(datum.value * 5 - round(datum.value * 5)) < 0.01", "value": 1}, "value": 0}}},
                      "color": {"field": "design", "type": "nominal",
                                "scale": {"domain": ["GO−SMART AR−1", "GO−SMART AR−2", "RA−SMART", "SMART"], "range": ["#56B4E9", "#0072B2", "#E69F00", "#D55E00"]},
                                "legend": {"title": "Design", "orient": "none", "legendX": 305, "legendY": 726, "direction": "horizontal", "gridAlign": "none", "titleOrient": "left", "titleAnchor": "middle", "titleBaseline": "middle", "symbolType": "circle", "symbolSize": 121, "labelFontSize": 16.5, "labelOffset": 18, "columnPadding": 7, "titlePadding": 18}},
                      "shape": {"field": "p0", "type": "nominal",
                                "scale": {"domain": ["0.25", "0.5", "1"], "range": ["circle", "triangle-up", "square"]},
                                "legend": {"title": "p₀", "orient": "none", "legendX": 20, "legendY": 726, "direction": "horizontal", "gridAlign": "none", "titleOrient": "left", "titleAnchor": "middle", "titleBaseline": "middle", "symbolSize": 130, "symbolFillColor": "black", "symbolStrokeColor": "black", "labelOffset": 18, "columnPadding": 17, "titlePadding": 22}},
                      "size": {"condition": {"test": "datum.p0 === '0.5'", "value": 200}, "value": 150}
                    }
                  }
                ]
              }
            },
            {
              "transform": [{"aggregate": [{"op": "count", "as": "n"}], "groupby": ["contrast"]}],
              "facet": {"row": {"field": "contrast", "type": "nominal", "header": {"labels": false, "title": null}}},
              "spacing": {"row": 10},
              "bounds": "flush",
              "spec": {
                "width": 21, "height": 73,
                "view": {"fill": "#D9D9D9", "stroke": "#333333", "strokeWidth": 1.1},
                "mark": {"type": "text", "angle": 90, "fontSize": 16, "color": "#1A1A1A", "font": "Liberation Sans", "baseline": "middle", "align": "center"},
                "encoding": {"text": {"field": "contrast", "type": "nominal"}}
              }
            }
          ]
        }
      ]
    },
    {
      "title": {"text": "S1", "anchor": "start", "frame": "group", "fontSize": 24, "fontWeight": "normal", "color": "black", "font": "Liberation Sans", "offset": 5},
      "transform": [{"filter": {"field": "s", "equal": "S1"}}],
      "spacing": -6,
      "vconcat": [
        {
          "transform": [{"aggregate": [{"op": "count", "as": "n"}], "groupby": ["method"]}],
          "facet": {"column": {"field": "method", "type": "nominal", "header": {"labels": false, "title": null}}},
          "spacing": {"column": 11},
          "bounds": "flush",
          "spec": {
            "width": 103, "height": 31,
            "view": {"fill": "#D9D9D9", "stroke": "#333333", "strokeWidth": 1.1},
            "mark": {"type": "text", "fontSize": 16, "color": "#1A1A1A", "font": "Liberation Sans", "baseline": "middle", "align": "center"},
            "encoding": {"text": {"field": "method", "type": "nominal"}}
          }
        },
        {
          "spacing": 0,
          "hconcat": [
            {
              "facet": {
                "row": {"field": "contrast", "type": "nominal", "header": {"labels": false, "title": "Coverage probability", "titleFontSize": 20, "titleFontWeight": "normal", "titleColor": "black", "titleFont": "Liberation Sans", "titlePadding": 0}},
                "column": {"field": "method", "type": "nominal", "header": {"labels": false, "title": "Design", "titleOrient": "bottom", "titleFontSize": 20, "titleFontWeight": "normal", "titleColor": "black", "titleFont": "Liberation Sans", "titlePadding": 4}}
              },
              "spacing": {"row": 10, "column": 11},
              "bounds": "flush",
              "spec": {
                "width": 103, "height": 73,
                "layer": [
                  {
                    "mark": {"type": "rule", "color": "black", "strokeWidth": 1.6, "strokeDash": [7, 5]},
                    "encoding": {"y": {"datum": 0.95, "type": "quantitative", "axis": {"labelOverlap": false, "tickCount": 20}}}
                  },
                  {
                    "mark": {"type": "point", "filled": true, "opacity": 1, "strokeWidth": 0},
                    "encoding": {
                      "x": {"field": "design", "type": "nominal", "title": null,
                            "scale": {"type": "point", "padding": 0.6},
                            "axis": {"labelAngle": -90, "grid": true, "gridColor": "#EBEBEB", "gridWidth": 1.1, "labelPadding": 3}},
                      "y": {"field": "coverage", "type": "quantitative", "title": null,
                            "scale": {"domain": [-0.06, 1.05], "nice": false, "zero": false},
                            "axis": {"values": [0, 0.125, 0.25, 0.375, 0.5, 0.625, 0.75, 0.875, 1.0],
                                     "tickCount": 20,
                                     "labelOverlap": false,
                                     "labelExpr": "abs(datum.value * 4 - round(datum.value * 4)) < 0.01 ? format(datum.value, '.2f') : ''",
                                     "grid": true, "gridColor": "#EBEBEB",
                                     "gridWidth": {"condition": {"test": "abs(datum.value * 4 - round(datum.value * 4)) < 0.01", "value": 1.1}, "value": 0.55},
                                     "tickOpacity": {"condition": {"test": "abs(datum.value * 4 - round(datum.value * 4)) < 0.01", "value": 1}, "value": 0}}},
                      "color": {"field": "design", "type": "nominal",
                                "scale": {"domain": ["GO−SMART AR−1", "GO−SMART AR−2", "RA−SMART", "SMART"], "range": ["#56B4E9", "#0072B2", "#E69F00", "#D55E00"]}},
                      "shape": {"field": "p0", "type": "nominal",
                                "scale": {"domain": ["0.25", "0.5", "1"], "range": ["circle", "triangle-up", "square"]}},
                      "size": {"condition": {"test": "datum.p0 === '0.5'", "value": 200}, "value": 150}
                    }
                  }
                ]
              }
            },
            {
              "transform": [{"aggregate": [{"op": "count", "as": "n"}], "groupby": ["contrast"]}],
              "facet": {"row": {"field": "contrast", "type": "nominal", "header": {"labels": false, "title": null}}},
              "spacing": {"row": 10},
              "bounds": "flush",
              "spec": {
                "width": 21, "height": 73,
                "view": {"fill": "#D9D9D9", "stroke": "#333333", "strokeWidth": 1.1},
                "mark": {"type": "text", "angle": 90, "fontSize": 16, "color": "#1A1A1A", "font": "Liberation Sans", "baseline": "middle", "align": "center"},
                "encoding": {"text": {"field": "contrast", "type": "nominal"}}
              }
            }
          ]
        }
      ]
    }
  ],
  "config": {
    "font": "Liberation Sans",
    "view": {"stroke": "#333333", "strokeWidth": 1.1},
    "axis": {
      "labelFont": "Liberation Sans", "labelFontSize": 16, "labelColor": "#4D4D4D",
      "tickColor": "#333333", "tickSize": 5, "tickWidth": 1.1, "domain": false,
      "labelPadding": 3, "labelOverlap": false
    },
    "legend": {
      "labelFont": "Liberation Sans", "labelFontSize": 16, "labelColor": "black",
      "titleFont": "Liberation Sans", "titleFontSize": 20, "titleFontWeight": "normal", "titleColor": "black"
    }
  }
}
